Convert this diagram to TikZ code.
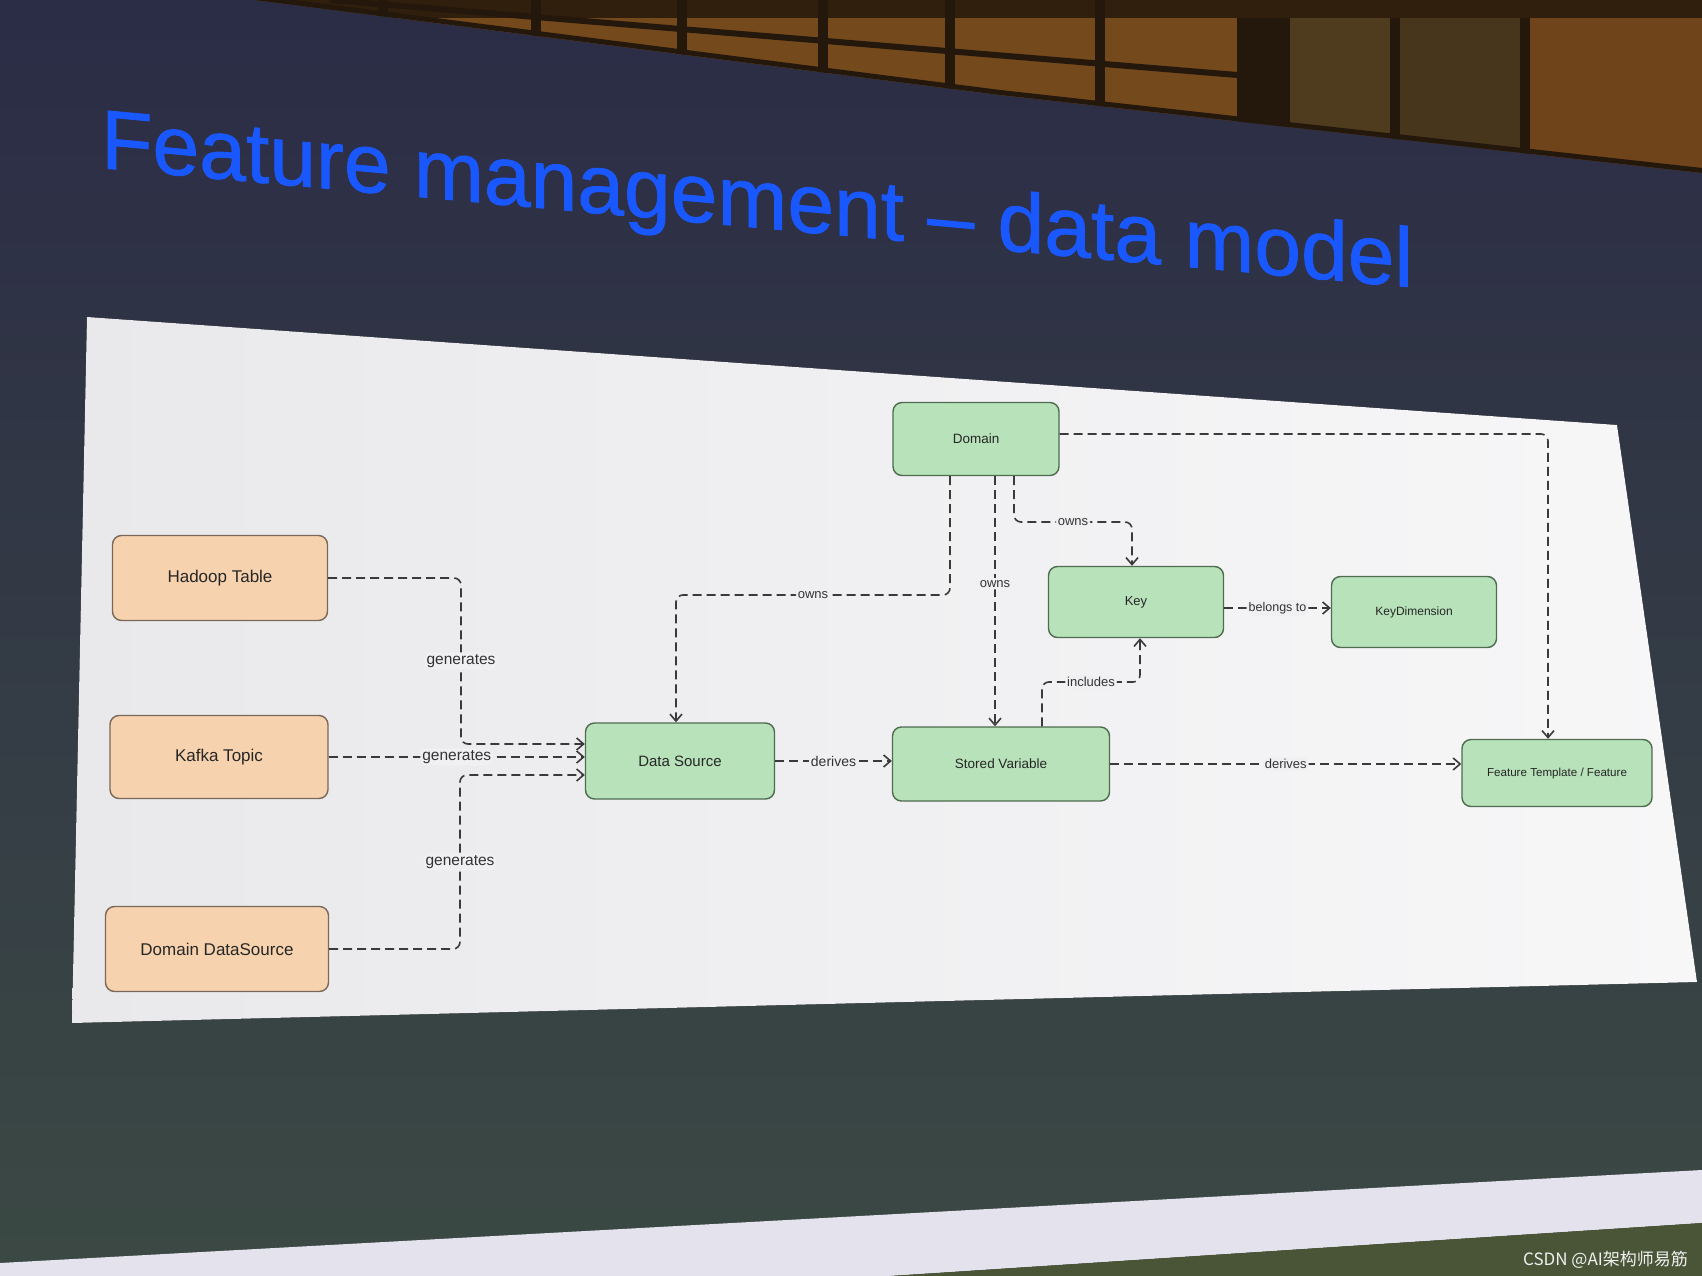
\documentclass[tikz,border=0pt]{standalone}
\usepackage{fontspec}
\setmainfont{Liberation Sans}
\newfontfamily\cjkfont{Noto Sans CJK SC}
\newfontfamily\titlefont[FakeBold=0.9]{Liberation Sans}
\usetikzlibrary{arrows.meta,calc}
\definecolor{navy}{HTML}{2B2C46}
\definecolor{slate}{HTML}{3B4944}
\definecolor{roombrown}{HTML}{5E3D14}
\definecolor{roomdark}{HTML}{24170B}
\definecolor{paneA}{HTML}{74491C}
\definecolor{curtA}{HTML}{4F3C1E}
\definecolor{curtB}{HTML}{70441B}
\definecolor{panelL}{HTML}{E9E9EC}
\definecolor{panelR}{HTML}{F7F7F8}
\definecolor{panelc}{HTML}{F0F0F2}
\definecolor{stripc}{HTML}{E4E2EC}
\definecolor{olive}{HTML}{4A5538}
\definecolor{peach}{HTML}{F7D2AE}
\definecolor{peachd}{HTML}{7A6858}
\definecolor{mint}{HTML}{B8E2BA}
\definecolor{mintd}{HTML}{4F6B50}
\definecolor{linec}{HTML}{3A3A3A}
\definecolor{titleblue}{HTML}{1A58FF}
\begin{document}
\begin{tikzpicture}[x=1pt,y=-1pt,
  src/.style={draw=peachd, fill=peach, rounded corners=9pt, line width=1.4pt, text=black!85, align=center},
  ent/.style={draw=mintd, fill=mint, rounded corners=9pt, line width=1.4pt, text=black!85, align=center},
  conn/.style={draw=linec, line width=1.6pt, dash pattern=on 9pt off 5pt, rounded corners=7pt, -{Straight Barb[length=7pt,width=12pt]}},
  lbl/.style={fill=panelc, inner sep=2pt, text=black!80, font=\fontsize{14}{16}\selectfont}
]
\useasboundingbox (0,0) rectangle (1702,1276);
% screen background
\fill[top color=navy, bottom color=slate] (0,0) rectangle (1702,1276);
% room above screen
\begin{scope}
\clip (255,0) -- (1000,95) -- (1702,173) -- (1702,0) -- cycle;
\fill[roombrown] (0,0) rectangle (1702,200);
\fill[paneA] (255,0) rectangle (1237,200);
\fill[roomdark] (1237,0) rectangle (1290,200);
\fill[curtA] (1290,0) rectangle (1395,200);
\fill[curtA!90!black] (1395,0) rectangle (1524,200);
\fill[curtB] (1524,0) rectangle (1702,200);
\fill[roomdark] (1390,0) rectangle (1400,200);
\fill[roomdark] (1520,0) rectangle (1530,200);
\fill[roomdark!80!roombrown] (0,0) rectangle (1702,18);
\draw[roomdark, line width=10pt] (255,0) -- (1000,95) -- (1702,173);
\draw[roomdark, line width=6pt] (330,0) -- (1237,75);
\foreach \xx in {383,536,682,823,950,1100} {\fill[roomdark] (\xx-5,0) rectangle (\xx+5,200);}
\end{scope}
% bottom strip of the room
\fill[stripc] (0,1263) -- (1702,1170) -- (1702,1223) -- (890,1276) -- (0,1276) -- cycle;
\fill[olive] (890,1276) -- (1702,1223) -- (1702,1276) -- cycle;
% title (keystoned: baseline slopes, verticals stay upright)
\node[anchor=base west, yslant=-0.091, text=titleblue, inner sep=0pt, font=\titlefont\fontsize{84}{90}\selectfont] (title) at (101,168) {Feature management – data model};
% white panel
\fill[left color=panelL, right color=panelR] (87,317) -- (1617,425) -- (1697,982) -- (72,1023) -- cycle;
% nodes
\node[src, minimum width=215pt, minimum height=85pt, font=\fontsize{17}{20}\selectfont] (hadoop) at (220,578) {Hadoop Table};
\node[src, minimum width=218pt, minimum height=83pt, font=\fontsize{17}{20}\selectfont] (kafka) at (219,757) {Kafka Topic};
\node[src, minimum width=223pt, minimum height=85pt, font=\fontsize{17}{20}\selectfont] (dds) at (217,949) {Domain DataSource};
\node[ent, minimum width=189pt, minimum height=76pt, font=\fontsize{15}{18}\selectfont] (ds) at (680,761) {Data Source};
\node[ent, minimum width=217pt, minimum height=74pt, font=\fontsize{13.5}{16}\selectfont] (sv) at (1001,764) {Stored Variable};
\node[ent, minimum width=166pt, minimum height=73pt, font=\fontsize{13.5}{16}\selectfont] (domain) at (976,439) {Domain};
\node[ent, minimum width=175pt, minimum height=71pt, font=\fontsize{13}{16}\selectfont] (key) at (1136,602) {Key};
\node[ent, minimum width=165pt, minimum height=71pt, font=\fontsize{12}{15}\selectfont] (kdim) at (1414,612) {KeyDimension};
\node[ent, minimum width=190pt, minimum height=67pt, font=\fontsize{11.6}{14}\selectfont] (feat) at (1557,773) {Feature Template / Feature};
% connectors
\draw[conn] (hadoop.east) -| node[lbl, pos=0.75, font=\fontsize{15.5}{18}\selectfont]{generates} (461,744) -- (ds.west |- 0,744);
\draw[conn] (kafka.east) -- node[lbl, font=\fontsize{15.5}{18}\selectfont]{generates} (ds.west |- kafka.east);
\draw[conn] (dds.east) -| node[lbl, pos=0.75, font=\fontsize{15.5}{18}\selectfont]{generates} (460,775) -- (ds.west |- 0,775);
\draw[conn] (ds.east) -- node[lbl]{derives} (sv.west |- ds.east);
\draw[conn] (sv.east) -- node[lbl, font=\fontsize{13}{16}\selectfont]{derives} (feat.west |- sv.east);
\draw[conn] (domain.south -| 950,0) -- (950,595) -| node[lbl, pos=0.25, font=\fontsize{13}{16}\selectfont]{owns} (ds.north -| 676,0);
\draw[conn] (domain.south -| 995,0) -- node[lbl, pos=0.43, font=\fontsize{13}{16}\selectfont]{owns} (sv.north -| 995,0);
\draw[conn] (domain.south -| 1014,0) |- node[lbl, pos=0.75, font=\fontsize{13}{16}\selectfont]{owns} (1132,522) -- (key.north -| 1132,0);
\draw[conn] (key.east |- 0,608) -- node[lbl, font=\fontsize{12.5}{15}\selectfont]{belongs to} (kdim.west |- 0,608);
\draw[conn] (sv.north -| 1042,0) |- node[lbl, pos=0.75, font=\fontsize{13}{16}\selectfont]{includes} (1140,682) -- (key.south -| 1140,0);
\draw[conn] (domain.east |- 0,434) -| (feat.north -| 1548,0);
% watermark
\node[anchor=base east, text=white!88!gray, inner sep=0pt, font=\cjkfont\fontsize{17}{20}\selectfont] (wm) at (1688,1265) {CSDN @AI架构师易筋};
\end{tikzpicture}
\end{document}
